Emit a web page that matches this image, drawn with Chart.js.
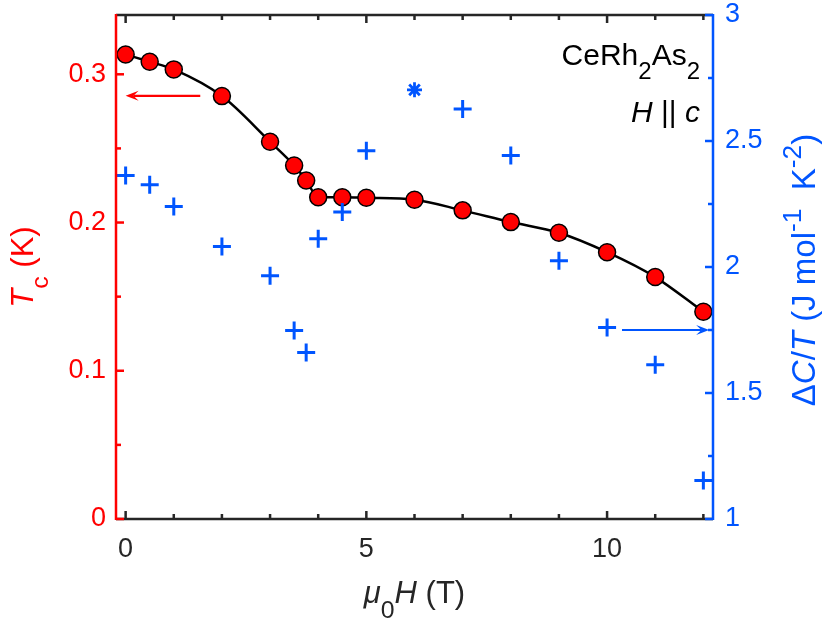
<!DOCTYPE html>
<html>
<head>
<meta charset="utf-8">
<script src="https://cdn.jsdelivr.net/npm/chart.js@4.4.1/dist/chart.umd.min.js"></script>
<style>
  body { margin: 0; background: #fff; }
  #wrap { width: 830px; height: 623px; }
</style>
</head>
<body>
<div id="wrap"><canvas id="mycanvas"></canvas></div>
<script>
// field values (T)
var fieldTc = [0, 0.5, 1, 2, 3, 3.5, 3.75, 4, 4.5, 5, 6, 7, 8, 9, 10, 11, 12];
// Tc (K), left axis
var tc = [0.3134, 0.3085, 0.3033, 0.2853, 0.2545, 0.2385, 0.2284, 0.2171, 0.2171, 0.2167,
          0.2154, 0.2082, 0.2003, 0.1931, 0.1800, 0.1632, 0.1398];
// jump of C/T, right axis
var fieldC = [0, 0.5, 1, 2, 3, 3.5, 3.75, 4, 4.5, 5, 7, 8, 9, 10, 11, 12];
var dC = [2.363, 2.326, 2.240, 2.081, 1.965, 1.748, 1.661, 2.112, 2.218, 2.461,
          2.627, 2.442, 2.025, 1.760, 1.612, 1.153];
// the single asterisk point
var fieldStar = [6];
var dCStar = [2.703];

var xTickLabels = ['0', '5', '10'];
var yLeftTickLabels = ['0', '0.1', '0.2', '0.3'];
var yRightTickLabels = ['1', '1.5', '2', '2.5', '3'];

var RED = '#ff0000';
var BLUE = '#0055ff';
var DARK = '#262626';
var FONT = '"Liberation Sans", Arial, Helvetica, sans-serif';

function pts(xs, ys) {
	var out = [];
	for (var i = 0; i < xs.length; i++) out.push({x: xs[i], y: ys[i]});
	return out;
}

function hasLabel(list, v) {
	for (var i = 0; i < list.length; i++) {
		if (Math.abs(parseFloat(list[i]) - v) < 1e-6) return list[i];
	}
	return '';
}

// rich text with italics / sub / superscripts
function fontOf(p, size) {
	var sz = p.s ? size * 0.8 : size;
	return (p.i ? 'italic ' : '') + sz + 'px ' + FONT;
}
function drawRich(ctx, parts, x, y, size, color, align, rot) {
	ctx.save();
	ctx.translate(x, y);
	if (rot) ctx.rotate(rot);
	var w = 0;
	parts.forEach(function(p) { ctx.font = fontOf(p, size); w += ctx.measureText(p.t).width; });
	var cx = align === 'center' ? -w / 2 : (align === 'right' ? -w : 0);
	ctx.fillStyle = color;
	ctx.textAlign = 'left';
	ctx.textBaseline = 'alphabetic';
	parts.forEach(function(p) {
		ctx.font = fontOf(p, size);
		var dy = p.s === 'sub' ? size * 0.48 : (p.s === 'sup' ? -size * 0.42 : 0);
		ctx.fillText(p.t, cx, dy);
		cx += ctx.measureText(p.t).width;
	});
	ctx.restore();
}

function arrow(ctx, x0, x1, y, color) {
	var dir = x1 > x0 ? 1 : -1;
	var head = 13;
	ctx.save();
	ctx.strokeStyle = color;
	ctx.fillStyle = color;
	ctx.lineWidth = 2.2;
	ctx.beginPath();
	ctx.moveTo(x0, y);
	ctx.lineTo(x1 - dir * head * 0.6, y);
	ctx.stroke();
	ctx.beginPath();
	ctx.moveTo(x1, y);
	ctx.lineTo(x1 - dir * head, y - 5);
	ctx.lineTo(x1 - dir * head * 0.6, y);
	ctx.lineTo(x1 - dir * head, y + 5);
	ctx.closePath();
	ctx.fill();
	ctx.restore();
}

function noPad(s) {
	s.paddingTop = 0; s.paddingBottom = 0;
	s.paddingLeft = 0; s.paddingRight = 0;
}

var framePlugin = {
	id: 'frame',
	afterDatasetsDraw: function(chart) {
		var ctx = chart.ctx;
		var a = chart.chartArea;
		var xs = chart.scales.x, yl = chart.scales.yL, yr = chart.scales.yR;

		// arrows pointing at their axes
		arrow(ctx, xs.getPixelForValue(1.55), xs.getPixelForValue(0), yl.getPixelForValue(0.2855), RED);
		arrow(ctx, xs.getPixelForValue(10.31), xs.getPixelForValue(12.12), yr.getPixelForValue(1.75), BLUE);

		ctx.save();
		ctx.lineWidth = 2.5;
		// x ticks, bottom and top, inward
		ctx.strokeStyle = DARK;
		xs.ticks.forEach(function(t) {
			var px = xs.getPixelForValue(t.value);
			var len = hasLabel(xTickLabels, t.value) ? 8 : 5;
			ctx.beginPath();
			ctx.moveTo(px, a.bottom); ctx.lineTo(px, a.bottom - len);
			ctx.moveTo(px, a.top); ctx.lineTo(px, a.top + len);
			ctx.stroke();
		});
		ctx.beginPath();
		ctx.moveTo(a.left, a.bottom); ctx.lineTo(a.right, a.bottom);
		ctx.moveTo(a.left, a.top); ctx.lineTo(a.right, a.top);
		ctx.stroke();

		ctx.strokeStyle = RED;
		yl.ticks.forEach(function(t) {
			var py = yl.getPixelForValue(t.value);
			var len = hasLabel(yLeftTickLabels, t.value) ? 8 : 5;
			ctx.beginPath();
			ctx.moveTo(a.left, py); ctx.lineTo(a.left + len, py);
			ctx.stroke();
		});
		ctx.beginPath();
		ctx.moveTo(a.left, a.top - 1); ctx.lineTo(a.left, a.bottom + 1);
		ctx.stroke();

		ctx.strokeStyle = BLUE;
		yr.ticks.forEach(function(t) {
			var py = yr.getPixelForValue(t.value);
			var len = hasLabel(yRightTickLabels, t.value) ? 8 : 5;
			ctx.beginPath();
			ctx.moveTo(a.right, py); ctx.lineTo(a.right - len, py);
			ctx.stroke();
		});
		ctx.beginPath();
		ctx.moveTo(a.right, a.top - 1); ctx.lineTo(a.right, a.bottom + 1);
		ctx.stroke();
		ctx.restore();

		// texts
		var cy = (a.top + a.bottom) / 2;
		drawRich(ctx, [{t: 'T', i: true}, {t: 'c', s: 'sub'}, {t: ' (K)'}], 33, cy, 31, RED, 'center', -Math.PI / 2);
		drawRich(ctx, [{t: '\u0394'}, {t: 'C', i: true}, {t: '/'}, {t: 'T', i: true}, {t: ' (J mol'},
			{t: '-1', s: 'sup'}, {t: '  K'}, {t: '-2', s: 'sup'}, {t: ')'}], 815, cy + 3, 33, BLUE, 'center', -Math.PI / 2);
		drawRich(ctx, [{t: '\u03bc', i: true}, {t: '0', s: 'sub'}, {t: 'H', i: true}, {t: ' (T)'}],
			(a.left + a.right) / 2, 603, 31, DARK, 'center', 0);
		drawRich(ctx, [{t: 'CeRh'}, {t: '2', s: 'sub'}, {t: 'As'}, {t: '2', s: 'sub'}], 700, 65, 30, '#000', 'right', 0);
		drawRich(ctx, [{t: 'H', i: true}, {t: ' || '}, {t: 'c', i: true}], 700, 122, 30, '#000', 'right', 0);
	}
};

var ctx = document.getElementById('mycanvas');

var chart = new Chart(ctx, {
	type: 'scatter',
	data: {
		datasets: [
			{
				label: 'Tc',
				data: pts(fieldTc, tc),
				yAxisID: 'yL',
				showLine: true,
				borderColor: '#000',
				borderWidth: 2.5,
				cubicInterpolationMode: 'monotone',
				pointStyle: 'circle',
				pointRadius: 8.5,
				pointBackgroundColor: RED,
				pointBorderColor: '#000',
				pointBorderWidth: 1.5,
				order: 2
			},
			{
				label: 'dC/T',
				data: pts(fieldC, dC),
				yAxisID: 'yR',
				pointStyle: 'cross',
				pointRadius: 9,
				borderColor: BLUE,
				pointBorderColor: BLUE,
				pointBorderWidth: 3,
				order: 1
			},
			{
				label: 'dC/T star',
				data: pts(fieldStar, dCStar),
				yAxisID: 'yR',
				pointStyle: 'star',
				pointRadius: 7.5,
				borderColor: BLUE,
				pointBorderColor: BLUE,
				pointBorderWidth: 2.8,
				order: 0
			}
		]
	},
	options: {
		responsive: true,
		maintainAspectRatio: false,
		animation: false,
		layout: { padding: { top: 15, left: 0, right: 0, bottom: 0 } },
		plugins: { legend: { display: false }, tooltip: { enabled: false } },
		scales: {
			x: {
				type: 'linear',
				min: -0.2,
				max: 12.2,
				grid: { display: false, drawTicks: false },
				border: { display: false },
				afterFit: function(s) { s.height = 104; noPad(s); },
				ticks: {
					stepSize: 1,
					includeBounds: false,
					autoSkip: false,
					maxRotation: 0,
					padding: 14,
					color: DARK,
					font: { family: FONT, size: 27 },
					callback: function(v) { return hasLabel(xTickLabels, v); }
				}
			},
			yL: {
				type: 'linear',
				position: 'left',
				min: 0,
				max: 0.34,
				grid: { display: false, drawTicks: false },
				border: { display: false },
				afterFit: function(s) { s.width = 116; noPad(s); },
				ticks: {
					stepSize: 0.05,
					includeBounds: false,
					autoSkip: false,
					padding: 10,
					color: RED,
					font: { family: FONT, size: 27 },
					callback: function(v) { return hasLabel(yLeftTickLabels, v); }
				}
			},
			yR: {
				type: 'linear',
				position: 'right',
				min: 1,
				max: 3,
				grid: { display: false, drawTicks: false },
				border: { display: false },
				afterFit: function(s) { s.width = 117; noPad(s); },
				ticks: {
					stepSize: 0.25,
					includeBounds: false,
					autoSkip: false,
					padding: 12,
					color: BLUE,
					font: { family: FONT, size: 27 },
					callback: function(v) { return hasLabel(yRightTickLabels, v); }
				}
			}
		}
	},
	plugins: [framePlugin]
});
</script>
</body>
</html>
